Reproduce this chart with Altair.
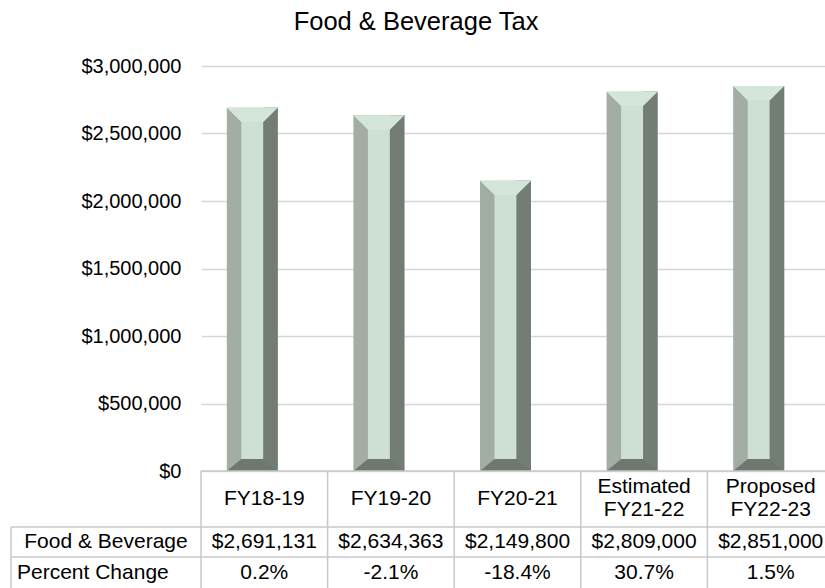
import altair as alt
import pandas as pd

# ---- data ----
categories = ["FY18-19", "FY19-20", "FY20-21", "FY21-22", "FY22-23"]
header_labels = ["FY18-19", "FY19-20", "FY20-21", "Estimated\nFY21-22", "Proposed\nFY22-23"]
revenue = [2691131, 2634363, 2149800, 2809000, 2851000]
pct_change = ["0.2%", "-2.1%", "-18.4%", "30.7%", "1.5%"]
y_ticks = [0, 500000, 1000000, 1500000, 2000000, 2500000, 3000000]
title_text = ["Food & Beverage Tax"]
row_labels = ["Food & Beverage", "Percent Change"]

df = pd.DataFrame({"cat": categories, "header": header_labels,
                   "value": revenue, "pct": pct_change})
df["zero"] = 0
title_df = pd.DataFrame({"t": title_text})
row1_df = pd.DataFrame({"t": [row_labels[0]]})
row2_df = pd.DataFrame({"t": [row_labels[1]]})

# ---- style ----
FONT = "Liberation Sans"
W, H = 624, 405
LEFT_C = "#a2ada3"
CENTER_C = "#cedfd4"
RIGHT_C = "#727d75"
TOP_C = "#d4e5da"
BOTTOM_C = "#6e7870"
LINE_C = "#c9c9c9"
BAR_W = 51
SHIFT = -12

xscale = alt.Scale(domain=categories, range=[0, 633], paddingInner=0, paddingOuter=0)
yscale = alt.Scale(domain=[0, 3000000], nice=False)
yaxis = alt.Axis(values=y_ticks, format="$,.0f", title=None, grid=True,
                 gridColor="#d6d6d6", gridWidth=1.5, domain=False, ticks=False,
                 tickSize=0, labelPadding=20, labelFont=FONT, labelFontSize=20,
                 labelColor="#000000")

x_enc = alt.X("cat:N", scale=xscale, axis=None)
y_enc = alt.Y("value:Q", scale=yscale, axis=yaxis, title=None)
y0_enc = alt.Y("zero:Q", scale=yscale, axis=yaxis, title=None)

base = alt.Chart(df)

outer = base.mark_bar(width=BAR_W, xOffset=SHIFT, color=LEFT_C).encode(x=x_enc, y=y_enc)
center = base.mark_bar(width=22, xOffset=SHIFT, color=CENTER_C).encode(x=x_enc, y=y_enc)
right = base.mark_bar(width=14.5, xOffset=SHIFT + 11 + 7.25, color=RIGHT_C).encode(x=x_enc, y=y_enc)

TOP_PATH = "M -1 0 L 1 0 L 0.431 0.561 L -0.431 0.561 Z"
BOT_PATH = "M -1 0 L 1 0 L 0.431 -0.47 L -0.431 -0.47 Z"
top = base.mark_point(shape=TOP_PATH, size=BAR_W * BAR_W, filled=True, opacity=1,
                      strokeWidth=0, color=TOP_C, xOffset=SHIFT).encode(x=x_enc, y=y_enc)
bottom = base.mark_point(shape=BOT_PATH, size=BAR_W * BAR_W, filled=True, opacity=1,
                         strokeWidth=0, color=BOTTOM_C, xOffset=SHIFT).encode(x=x_enc, y=y0_enc)

# ---- table grid ----
vlines = base.mark_rule(color=LINE_C, strokeWidth=1.5).encode(
    x=alt.X("cat:N", scale=xscale, axis=None, bandPosition=0),
    y=alt.value(H), y2=alt.value(H + 130))
left_border = alt.Chart(row1_df).mark_rule(color=LINE_C, strokeWidth=1.5).encode(
    x=alt.value(-190), y=alt.value(461), y2=alt.value(H + 130))
h0 = alt.Chart(row1_df).mark_rule(color=LINE_C, strokeWidth=1.5).encode(
    x=alt.value(0), x2=alt.value(640), y=alt.value(H))
h1 = alt.Chart(row1_df).mark_rule(color=LINE_C, strokeWidth=1.5).encode(
    x=alt.value(-190), x2=alt.value(640), y=alt.value(461))
h2 = alt.Chart(row1_df).mark_rule(color=LINE_C, strokeWidth=1.5).encode(
    x=alt.value(-190), x2=alt.value(640), y=alt.value(491))

# ---- table text ----
TXT = dict(font=FONT, fontSize=21, color="#000000", baseline="middle")
header1 = base.transform_filter("indexof(datum.header, '\\n') < 0").mark_text(**TXT).encode(
    x=x_enc, y=alt.value(432.5), text="header:N")
header2 = base.transform_filter("indexof(datum.header, '\\n') >= 0").mark_text(
    lineBreak="\n", lineHeight=23, **TXT).encode(
    x=x_enc, y=alt.value(421), text="header:N")
vals = base.mark_text(**TXT).encode(
    x=x_enc, y=alt.value(476), text=alt.Text("value:Q", format="$,.0f"))
pcts = base.mark_text(**TXT).encode(
    x=x_enc, y=alt.value(507), text="pct:N")
lab1 = alt.Chart(row1_df).mark_text(align="center", **TXT).encode(
    x=alt.value(-95), y=alt.value(476), text="t:N")
lab2 = alt.Chart(row2_df).mark_text(align="left", **TXT).encode(
    x=alt.value(-184), y=alt.value(507), text="t:N")

title = alt.Chart(title_df).mark_text(font=FONT, fontSize=25.5, color="#000000",
                                      baseline="alphabetic", align="center").encode(
    x=alt.value(215), y=alt.value(-36), text="t:N")

chart = alt.layer(outer, center, right, top, bottom,
                  vlines, left_border, h0, h1, h2,
                  header1, header2, vals, pcts, lab1, lab2, title).properties(
    width=W, height=H,
    autosize=alt.AutoSizeParams(type="none"),
    padding={"left": 201, "top": 66, "right": 0, "bottom": 117},
    background="#ffffff",
).configure_view(strokeWidth=0)

chart.save("out.html", embed_options={"renderer": "svg", "actions": False})
